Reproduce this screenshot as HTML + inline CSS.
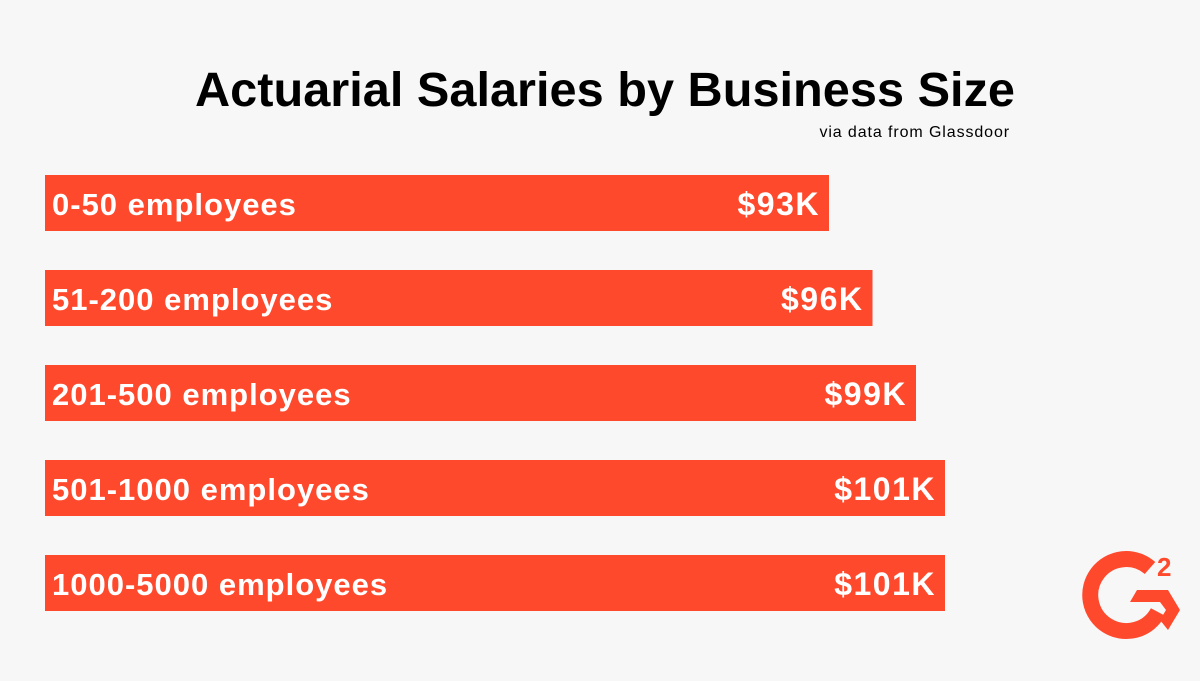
<!DOCTYPE html>
<html><head><meta charset="utf-8"><style>
body{margin:0;background:#f7f7f7;}
svg text{font-family:"Liberation Sans",sans-serif;font-weight:bold;}
</style></head><body>
<svg width="1200" height="676" viewBox="0 0 1200 676">
<rect x="0" y="0" width="1200" height="676" fill="#f7f7f7"/>
<text x="605" y="106" text-anchor="middle" font-size="48" textLength="820" lengthAdjust="spacingAndGlyphs" fill="#000">Actuarial Salaries by Business Size</text>
<text x="1010" y="137" text-anchor="end" font-size="16" letter-spacing="0.9" style="font-weight:normal" fill="#000">via data from Glassdoor</text>
<g id="bars"></g>
<g>
<path d="M1150 568 A36 36 0 1 0 1158 612" fill="none" stroke="#ff492c" stroke-width="16"/>
<polygon points="1137,590 1168,590 1180,610 1168,630 1160,620 1166,610 1160,602 1130,602" fill="#ff492c"/>
<text x="1157" y="576" font-size="26" fill="#ff492c">2</text>
</g>
</svg>
<script>
const categories=["0-50 employees","51-200 employees","201-500 employees","501-1000 employees","1000-5000 employees"];
const salaries=[93,96,99,101,101];
const valueLabels=["$93K","$96K","$99K","$101K","$101K"];
const ns="http://www.w3.org/2000/svg";
const x0=45;
function xScale(v){return -564.5+14.5*v;}
function yScale(i){return 175+i*95;}
const g=document.getElementById('bars');
categories.forEach((c,i)=>{
  const w=xScale(salaries[i]);const y=yScale(i);
  const r=document.createElementNS(ns,'rect');
  
  
  r.setAttribute('x',x0);r.setAttribute('y',y);r.setAttribute('width',w);r.setAttribute('height',56);r.setAttribute('fill','#ff492c');
  g.appendChild(r);
  const t=document.createElementNS(ns,'text');
  
  
  t.setAttribute('x',x0+7);t.setAttribute('y',y+40);t.setAttribute('font-size','31');t.setAttribute('letter-spacing','1.0');t.setAttribute('fill','#fff');
  t.textContent=c;g.appendChild(t);
  const v=document.createElementNS(ns,'text');
  
  
  v.setAttribute('x',x0+w-9);v.setAttribute('y',y+40);v.setAttribute('font-size','32');v.setAttribute('letter-spacing','1.5');v.setAttribute('fill','#fff');v.setAttribute('text-anchor','end');
  v.textContent=valueLabels[i];g.appendChild(v);
});
</script>
</body></html>
